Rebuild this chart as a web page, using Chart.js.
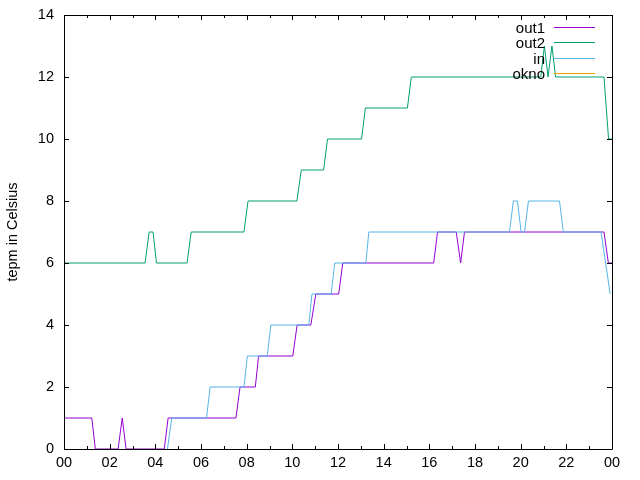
<!DOCTYPE html>
<html>
<head>
<meta charset="utf-8">
<script src="https://cdn.jsdelivr.net/npm/chart.js@4.4.1/dist/chart.umd.min.js"></script>
<style>
html, body { margin: 0; padding: 0; background: #fff; }
#wrap { width: 640px; height: 480px; }
</style>
</head>
<body>
<div id="wrap"><canvas id="chart_temp"></canvas></div>
<script>
const tickLabels = ['00', '02', '04', '06', '08', '10', '12', '14', '16', '18', '20', '22', '00'];

// hours since midnight / temperature
const out1Hours = [0, 1.22, 1.37, 2.37, 2.55, 2.72, 4.39, 4.56, 7.53, 7.71, 8.38, 8.52, 10.02, 10.21, 10.81, 11.03, 12.03, 12.21, 16.19, 16.36, 17.18, 17.37, 17.54, 23.65, 23.84, 24];
const out1Temps = [1, 1, 0, 0, 1, 0, 0, 1, 1, 2, 2, 3, 3, 4, 4, 5, 5, 6, 6, 7, 7, 6, 7, 7, 6, 6];

const out2Hours = [0, 3.55, 3.73, 3.9, 4.05, 5.39, 5.57, 7.88, 8.06, 10.2, 10.39, 11.37, 11.54, 13.03, 13.2, 15.04, 15.21, 20.88, 21.04, 21.2, 21.37, 21.53, 23.65, 23.85, 24];
const out2Temps = [6, 6, 7, 7, 6, 6, 7, 7, 8, 8, 9, 9, 10, 10, 11, 11, 12, 12, 13, 12, 13, 12, 12, 10, 10];

const inHours = [4.53, 4.72, 6.24, 6.4, 7.88, 8.03, 8.9, 9.06, 10.72, 10.86, 11.7, 11.86, 13.22, 13.35, 19.51, 19.68, 19.86, 20.02, 20.17, 20.34, 21.7, 21.87, 23.52, 23.92];
const inTemps = [0, 1, 1, 2, 2, 3, 3, 4, 4, 5, 5, 6, 6, 7, 7, 8, 8, 7, 7, 8, 8, 7, 7, 5];

const oknoHours = [];
const oknoTemps = [];

function toPoints(hours, temps) {
    return hours.map((h, i) => ({ x: h, y: temps[i] }));
}

const FONT = '"Liberation Sans", Arial, sans-serif';
Chart.defaults.color = '#000';
Chart.defaults.font.family = FONT;
Chart.defaults.font.size = 14.5;

// gnuplot style box with inward ticks
const gnuplotFrame = {
    id: 'gnuplotFrame',
    afterDraw(chart) {
        const { ctx, chartArea: a, scales: { x, y } } = chart;
        ctx.save();
        ctx.strokeStyle = '#000';
        ctx.lineWidth = 1;
        ctx.beginPath();
        for (let h = 0; h <= 24; h++) {
            const px = Math.round(x.getPixelForValue(h)) + 0.5;
            const len = h % 2 === 0 ? 5 : 3;
            ctx.moveTo(px, a.bottom); ctx.lineTo(px, a.bottom - len);
            ctx.moveTo(px, a.top); ctx.lineTo(px, a.top + len);
        }
        y.ticks.forEach(t => {
            const py = Math.round(y.getPixelForValue(t.value)) + 0.5;
            ctx.moveTo(a.left, py); ctx.lineTo(a.left + 5, py);
            ctx.moveTo(a.right, py); ctx.lineTo(a.right - 5, py);
        });
        ctx.rect(Math.round(a.left) + 0.5, Math.round(a.top) + 0.5, Math.round(a.right - a.left), Math.round(a.bottom - a.top));
        ctx.stroke();
        ctx.restore();
    }
};

// key in the top right corner, like gnuplot
const keyLegend = {
    id: 'keyLegend',
    afterDatasetsDraw(chart) {
        const ctx = chart.ctx;
        ctx.save();
        ctx.font = '15px ' + FONT;
        ctx.textAlign = 'right';
        ctx.textBaseline = 'middle';
        chart.data.datasets.forEach((ds, i) => {
            const yy = Math.round(27 + i * 15.3) + 0.5;
            ctx.fillStyle = '#000';
            ctx.fillText(ds.label, 545, yy + 1);
            ctx.strokeStyle = ds.borderColor;
            ctx.lineWidth = 1;
            ctx.beginPath();
            ctx.moveTo(554, yy);
            ctx.lineTo(595, yy);
            ctx.stroke();
        });
        ctx.restore();
    }
};

const lineStyle = { borderWidth: 1, pointRadius: 0, tension: 0, fill: false };

const ctxTemp = document.getElementById('chart_temp');
const tempChart = new Chart(ctxTemp, {
    type: 'line',
    data: {
        datasets: [{
            label: 'out1',
            data: toPoints(out1Hours, out1Temps),
            borderColor: '#9400d3',
            order: 4,
            ...lineStyle
        }, {
            label: 'out2',
            data: toPoints(out2Hours, out2Temps),
            borderColor: '#009e73',
            order: 3,
            ...lineStyle
        }, {
            label: 'in',
            data: toPoints(inHours, inTemps),
            borderColor: '#56b4e9',
            order: 2,
            ...lineStyle
        }, {
            label: 'okno',
            data: toPoints(oknoHours, oknoTemps),
            borderColor: '#e69f00',
            order: 1,
            ...lineStyle
        }]
    },
    options: {
        responsive: true,
        maintainAspectRatio: false,
        animation: false,
        layout: { padding: { top: 15, right: 28, left: 0, bottom: 0 } },
        plugins: {
            legend: { display: false },
            tooltip: { enabled: false }
        },
        scales: {
            x: {
                type: 'linear',
                min: 0,
                max: 24,
                grid: { display: false, drawTicks: false },
                border: { display: false },
                ticks: {
                    stepSize: 2,
                    padding: 5,
                    maxRotation: 0,
                    autoSkip: false,
                    callback: (v, i) => tickLabels[i]
                },
                afterFit: scale => { scale.height = 31; }
            },
            y: {
                min: 0,
                max: 14,
                grid: { display: false, drawTicks: false },
                border: { display: false },
                ticks: { stepSize: 2, padding: 10 },
                title: { display: true, text: 'tepm in Celsius', padding: { top: 4, bottom: 0 } },
                afterFit: scale => {
                    scale.width = 64;
                    scale.paddingTop = 0;
                    scale.paddingBottom = 0;
                }
            }
        }
    },
    plugins: [keyLegend, gnuplotFrame]
});
</script>
</body>
</html>
